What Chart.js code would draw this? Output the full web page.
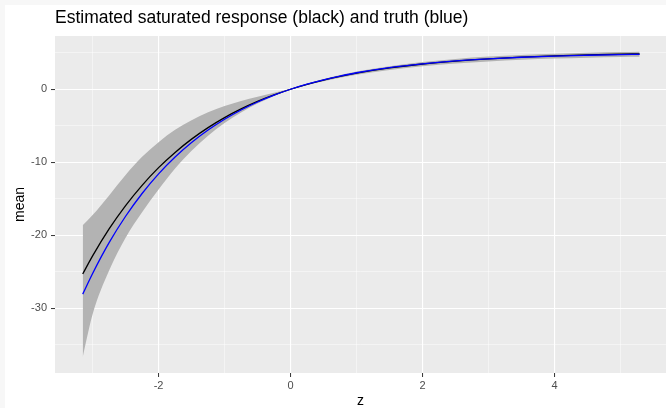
<!DOCTYPE html>
<html>
<head>
<meta charset="utf-8">
<script src="https://cdn.jsdelivr.net/npm/chart.js@4.4.1/dist/chart.umd.min.js"></script>
<style>
  html, body { margin: 0; padding: 0; background: #ffffff; }
  #chart { display: block; }
</style>
</head>
<body>
<canvas id="chart" width="666" height="408"></canvas>
<script>
// values
const zValues = [-3.15, -3.0, -2.75, -2.5, -2.25, -2.0, -1.75, -1.5, -1.25, -1.0, -0.75, -0.5, -0.25, 0,
                 0.25, 0.5, 0.75, 1.0, 1.5, 2.0, 2.5, 3.0, 3.5, 4.0, 4.5, 5.0, 5.29];
const truthValues = [-28.09, -25.25, -21.03, -17.41, -14.29, -11.60, -9.29, -7.30, -5.59, -4.11, -2.84, -1.75, -0.81, 0,
                     0.70, 1.30, 1.81, 2.26, 2.97, 3.49, 3.88, 4.17, 4.39, 4.55, 4.66, 4.75, 4.79];
const estimateValues = [-25.33, -22.84, -19.15, -15.95, -13.17, -10.75, -8.66, -6.84, -5.26, -3.89, -2.70, -1.67, -0.78, 0,
                        0.67, 1.26, 1.77, 2.21, 2.92, 3.46, 3.86, 4.17, 4.40, 4.57, 4.70, 4.80, 4.85];
const upperValues = [-18.63, -17.24, -14.55, -11.75, -9.27, -7.25, -5.56, -4.24, -3.16, -2.29, -1.60, -1.02, -0.48, 0.06,
                     0.77, 1.42, 1.96, 2.43, 3.17, 3.74, 4.16, 4.48, 4.71, 4.88, 5.00, 5.09, 5.13];
const lowerValues = [-36.73, -30.84, -24.85, -20.35, -16.87, -13.75, -10.86, -8.44, -6.36, -4.64, -3.20, -1.97, -0.92, -0.06,
                     0.57, 1.10, 1.57, 1.98, 2.65, 3.16, 3.53, 3.82, 4.04, 4.21, 4.33, 4.42, 4.45];

// axis ticks (major ones carry a label, minor ones an empty string)
const xTicks = [-3, -2, -1, 0, 1, 2, 3, 4, 5];
const xLabels = ['', '-2', '', '0', '', '2', '', '4', ''];
const yTicks = [-35, -30, -25, -20, -15, -10, -5, 0, 5];
const yLabels = ['', '-30', '', '-20', '', '-10', '', '0', ''];

const points = values => zValues.map((z, i) => ({ x: z, y: values[i] }));

// grey panel like ggplot
const panelBackground = {
    id: 'panelBackground',
    beforeDraw(chart) {
        const { ctx, chartArea: a } = chart;
        ctx.save();
        ctx.fillStyle = '#f7f7f7';
        ctx.fillRect(0, 0, chart.width, chart.height);
        ctx.fillStyle = '#ffffff';
        ctx.fillRect(5, 5, chart.width - 5, chart.height - 5);
        ctx.fillStyle = '#ebebeb';
        ctx.fillRect(a.left, a.top, a.right - a.left, a.bottom - a.top);
        ctx.restore();
    }
};

function gridFor(labels) {
    const major = ctx => labels[ctx.index] !== '';
    return {
        color: ctx => major(ctx) ? '#ffffff' : 'rgba(255,255,255,0.55)',
        lineWidth: ctx => major(ctx) ? 1.1 : 0.8,
        tickColor: ctx => major(ctx) ? '#333333' : 'rgba(0,0,0,0)',
        tickLength: 4,
        tickWidth: 1
    };
}

Chart.defaults.font.family = '"Liberation Sans", Arial, sans-serif';

new Chart(document.getElementById('chart'), {
    type: 'line',
    data: {
        datasets: [
            {
                label: 'truth',
                data: points(truthValues),
                borderColor: '#0000ff',
                borderWidth: 1.3,
                pointRadius: 0,
                fill: false,
                cubicInterpolationMode: 'monotone'
            },
            {
                label: 'estimate',
                data: points(estimateValues),
                borderColor: '#000000',
                borderWidth: 1.3,
                pointRadius: 0,
                fill: false,
                cubicInterpolationMode: 'monotone'
            },
            {
                label: 'upper',
                data: points(upperValues),
                borderColor: 'rgba(0,0,0,0)',
                borderWidth: 0,
                backgroundColor: '#b3b3b3',
                pointRadius: 0,
                fill: '+1',
                cubicInterpolationMode: 'monotone'
            },
            {
                label: 'lower',
                data: points(lowerValues),
                borderColor: 'rgba(0,0,0,0)',
                borderWidth: 0,
                pointRadius: 0,
                fill: false,
                cubicInterpolationMode: 'monotone'
            }
        ]
    },
    options: {
        responsive: false,
        animation: false,
        events: [],
        devicePixelRatio: 1,
        layout: { padding: 0 },
        plugins: {
            legend: { display: false },
            tooltip: { enabled: false },
            title: {
                display: true,
                text: 'Estimated saturated response (black) and truth (blue)',
                align: 'start',
                fullSize: false,
                color: '#000000',
                font: { size: 17.5, weight: 'normal', lineHeight: 1.2 },
                padding: { top: 8, bottom: 7 }
            }
        },
        scales: {
            x: {
                type: 'linear',
                min: -3.57,
                max: 5.69,
                afterBuildTicks: scale => { scale.ticks = xTicks.map(v => ({ value: v })); },
                afterFit: scale => { scale.height = 35; },
                grid: gridFor(xLabels),
                border: { display: false },
                ticks: {
                    autoSkip: false,
                    maxRotation: 0,
                    padding: 2,
                    color: '#4d4d4d',
                    font: { size: 11 },
                    callback: (value, index) => xLabels[index]
                },
                title: {
                    display: true,
                    text: 'z',
                    color: '#000000',
                    font: { size: 14, lineHeight: 1 },
                    padding: 0
                }
            },
            y: {
                type: 'linear',
                min: -38.9,
                max: 7.3,
                afterBuildTicks: scale => { scale.ticks = yTicks.map(v => ({ value: v })); },
                afterFit: scale => { scale.width = 55; },
                grid: gridFor(yLabels),
                border: { display: false },
                ticks: {
                    autoSkip: false,
                    padding: 4,
                    color: '#4d4d4d',
                    font: { size: 11 },
                    callback: (value, index) => yLabels[index]
                },
                title: {
                    display: true,
                    text: 'mean',
                    color: '#000000',
                    font: { size: 14, lineHeight: 1 },
                    padding: { top: 13, bottom: 0 }
                }
            }
        }
    },
    plugins: [panelBackground]
});
</script>
</body>
</html>
